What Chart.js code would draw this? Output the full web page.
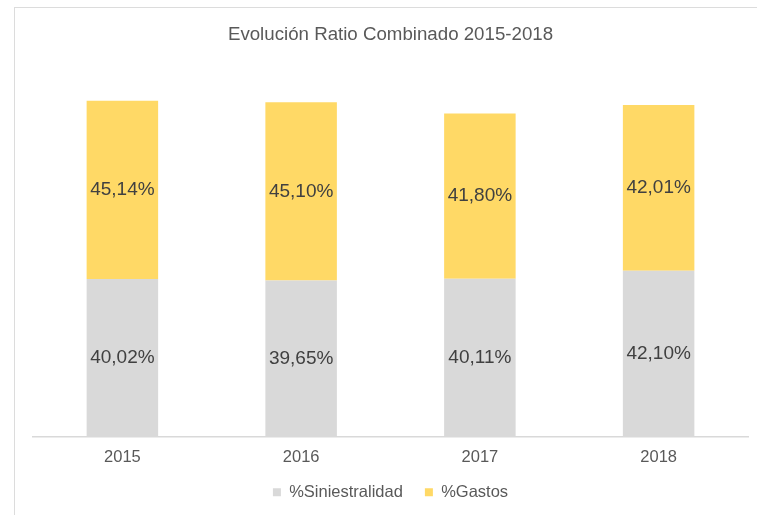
<!DOCTYPE html>
<html>
    <head>
        <meta charset="UTF-8">
        <title>Evolución Ratio Combinado</title>
        <script src="https://cdn.jsdelivr.net/npm/chart.js@4"></script>
        <style>
            body{
                margin: 0;
                background-color: white;
                overflow: hidden;
            }
            .marco{
                position: absolute;
                left: 14px;
                top: 7px;
                width: 900px;
                height: 700px;
                border: 1.5px solid #dcdcdc;
            }
            .grafica{
                position: absolute;
                left: 0;
                top: 0;
                width: 757px;
                height: 515px;
            }
        </style>
    </head>
    <body>
        <div class="marco"></div>
        <div class="grafica">
            <canvas id="miCanvas" width="757" height="515"></canvas>
        </div>
        <script>
            const years = ["2015", "2016", "2017", "2018"];
            const siniestralidad = [40.02, 39.65, 40.11, 42.10];
            const gastos = [45.14, 45.10, 41.80, 42.01];

            // etiquetas dentro de cada barra
            const etiquetas = {
                id: "etiquetas",
                afterDatasetsDraw(chart){
                    const ctx = chart.ctx;
                    ctx.save();
                    ctx.font = "19px 'Liberation Sans', Arial, sans-serif";
                    ctx.fillStyle = "#404040";
                    ctx.textAlign = "center";
                    ctx.textBaseline = "middle";
                    chart.data.datasets.forEach((ds, i) => {
                        const meta = chart.getDatasetMeta(i);
                        meta.data.forEach((bar, j) => {
                            const txt = ds.data[j].toFixed(2).replace(".", ",") + "%";
                            ctx.fillText(txt, bar.x, (bar.y + bar.base) / 2);
                        });
                    });
                    ctx.restore();
                }
            };

            const miCanvas = document.getElementById("miCanvas").getContext("2d");
            new Chart(miCanvas, {
                type: "bar",
                data: {
                    labels: years,
                    datasets: [
                        {
                            label: "%Siniestralidad",
                            data: siniestralidad,
                            backgroundColor: "#d9d9d9"
                        },
                        {
                            label: "%Gastos",
                            data: gastos,
                            backgroundColor: "#ffd966"
                        }
                    ]
                },
                options: {
                    responsive: false,
                    animation: false,
                    datasets: {
                        bar: {categoryPercentage: 1, barPercentage: 0.4}
                    },
                    layout: {
                        padding: {top: 14, left: 33, right: 9, bottom: 4.5}
                    },
                    scales: {
                        x: {
                            stacked: true,
                            grid: {display: false, drawTicks: false},
                            border: {display: true, color: "#d9d9d9", width: 1.5},
                            ticks: {
                                color: "#595959",
                                padding: 11,
                                font: {family: "'Liberation Sans', Arial", size: 16.5}
                            },
                            afterFit: (s) => { s.height = 25; }
                        },
                        y: {
                            stacked: true,
                            display: false,
                            min: 0,
                            max: 90
                        }
                    },
                    plugins: {
                        title: {
                            display: true,
                            text: "Evolución Ratio Combinado 2015-2018",
                            color: "#595959",
                            font: {family: "'Liberation Sans', Arial", size: 18.7, weight: "normal"},
                            padding: {top: 9.3, bottom: 35.9}
                        },
                        legend: {
                            position: "bottom",
                            labels: {
                                color: "#595959",
                                boxWidth: 8,
                                boxHeight: 8,
                                padding: 22,
                                font: {family: "'Liberation Sans', Arial", size: 16.5}
                            }
                        },
                        tooltip: {enabled: false}
                    }
                },
                plugins: [etiquetas]
            });
        </script>
    </body>
</html>
